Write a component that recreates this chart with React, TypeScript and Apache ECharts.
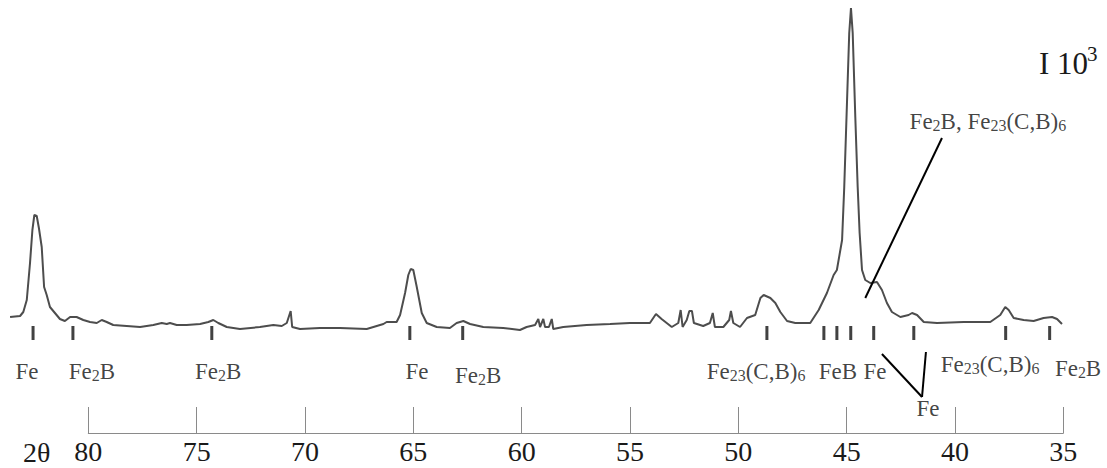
import React, { useEffect, useRef } from "react";
import * as echarts from "echarts";

// 2θ (degrees) of each traced point of the diffractogram
const twoTheta = [
  83.61, 83.15, 83.0, 82.84, 82.69, 82.58, 82.49, 82.38, 82.28, 82.15,
  82.04, 81.92, 81.77, 81.54, 81.31, 81.08, 80.84, 80.54, 80.23, 79.92,
  79.61, 79.38, 79.15, 78.85, 78.23, 77.61, 77.0, 76.61, 76.38, 76.23,
  75.92, 75.46, 74.84, 74.46, 74.23, 74.0, 73.61, 73.0, 72.08, 71.46,
  71.07, 70.84, 70.66, 70.59, 70.23, 69.31, 68.38, 67.15, 66.38, 66.23,
  65.77, 65.61, 65.38, 65.23, 65.12, 65.0, 64.84, 64.61, 64.38, 63.92,
  63.31, 63.0, 62.69, 62.38, 61.77, 60.85, 60.08, 59.77, 59.38, 59.23,
  59.15, 59.0, 58.92, 58.74, 58.61, 58.54, 58.08, 57.0, 55.92, 55.0,
  54.08, 53.8, 53.54, 53.07, 52.77, 52.66, 52.57, 52.38, 52.26, 52.14,
  52.05, 51.62, 51.31, 51.18, 51.08, 50.69, 50.42, 50.34, 50.23, 49.92,
  49.6, 49.22, 48.98, 48.83, 48.52, 48.29, 48.06, 47.75, 47.37, 46.68,
  46.29, 45.91, 45.6, 45.45, 45.21, 45.11, 44.98, 44.88, 44.8, 44.72,
  44.6, 44.49, 44.4, 44.29, 44.14, 43.91, 43.6, 43.37, 43.14, 42.91,
  42.52, 42.14, 41.98, 41.75, 41.44, 40.83, 39.6, 38.37, 37.91, 37.68,
  37.52, 37.29, 36.83, 36.37, 35.91, 35.52, 35.29, 35.06,
];

// intensity (arbitrary units) at each point
const intensity = [
  23, 24, 28, 40, 77, 110, 125, 124, 112, 93,
  53, 45, 33, 27, 21, 19, 23, 23, 20, 18,
  17, 20, 18, 15, 14, 13, 15, 17, 16, 17,
  15, 15, 16, 18, 20, 17, 13, 11, 13, 15,
  14, 17, 29, 13, 11, 12, 12, 11, 16, 18,
  18, 25, 47, 65, 71, 70, 53, 27, 17, 13,
  12, 17, 19, 16, 13, 12, 10, 13, 15, 21,
  13, 21, 13, 13, 21, 11, 13, 15, 16, 17,
  17, 26, 21, 13, 17, 30, 13, 20, 29, 29,
  17, 14, 17, 27, 13, 13, 20, 29, 17, 13,
  22, 25, 42, 45, 42, 37, 28, 19, 17, 17,
  30, 47, 65, 70, 100, 153, 240, 307, 332, 307,
  223, 153, 107, 70, 60, 57, 58, 50, 37, 28,
  23, 25, 27, 25, 18, 17, 18, 18, 25, 33,
  30, 22, 20, 19, 22, 23, 21, 16,
];

// phase reflection markers (2θ) and their level
const markerTheta = [82.55, 80.71, 74.3, 65.16, 62.72, 48.68, 46.05, 45.45, 44.81, 43.75, 41.9, 37.66, 35.63];
const markerLevel = 7;

// phase labels (digits become subscripts), their 2θ and level
const phaseLabels = ["Fe", "Fe2B", "Fe2B", "Fe", "Fe2B", "Fe23(C,B)6", "FeB", "Fe", "Fe", "Fe23(C,B)6", "Fe2B", "Fe2B, Fe23(C,B)6"];
const labelTheta = [82.83, 79.83, 74.01, 64.83, 62.01, 49.18, 45.4, 43.69, 41.25, 38.38, 34.32, 38.48];
const labelLevel = [-31, -31, -31, -31, -35, -31, -31, -31, -68, -24, -28, 219];

// leader lines (pairs of [2θ, level])
const leaderLines = [
  [[40.6, 202], [44.14, 42]],
  [[43.37, -14], [41.52, -57]],
  [[41.34, -12], [41.52, -57]],
];

// visible 2θ axis
const axisMin = 35;
const axisMax = 80;
const axisStep = 5;

const W = 1107;
const H = 468;
const AXIS_LEFT = 88.3;
const AXIS_RIGHT = 43.7;
const AXIS_BOTTOM = 35;
const LEVEL_MIN = -93;
const LEVEL_MAX = 340;

const SERIF = "Liberation Serif";

function toRich(s: string): string {
  return s
    .split(/(\d+)/)
    .filter((p) => p.length > 0)
    .map((p) => (/^\d+$/.test(p) ? `{s|${p}}` : `{m|${p}}`))
    .join("");
}

export default function App() {
  const ref = useRef<HTMLDivElement>(null);

  useEffect(() => {
    document.body.style.margin = "0";
    if (!ref.current) return;
    const chart = echarts.init(ref.current, null, { renderer: "svg" });

    // full-width data grid shares the pixel scale of the visible axis
    const pxPerDeg = (W - AXIS_LEFT - AXIS_RIGHT) / (axisMax - axisMin);
    const dataMaxDeg = axisMax + AXIS_LEFT / pxPerDeg;
    const dataMinDeg = axisMin - AXIS_RIGHT / pxPerDeg;

    const curve = twoTheta.map((t, i) => [t, intensity[i]]);
    const markers = markerTheta.map((t) => [t, markerLevel]);
    const labels = phaseLabels.map((s, i) => ({
      value: [labelTheta[i], labelLevel[i]],
      rich: toRich(s),
    }));

    const option: any = {
      animation: false,
      backgroundColor: "#ffffff",
      textStyle: { fontFamily: SERIF },
      grid: [
        { left: 0, right: 0, top: 0, bottom: AXIS_BOTTOM },
        { left: AXIS_LEFT, right: AXIS_RIGHT, top: H - AXIS_BOTTOM - 30, bottom: AXIS_BOTTOM },
      ],
      xAxis: [
        {
          gridIndex: 0,
          type: "value",
          inverse: true,
          min: dataMinDeg,
          max: dataMaxDeg,
          show: false,
        },
        {
          gridIndex: 1,
          type: "value",
          inverse: true,
          min: axisMin,
          max: axisMax,
          interval: axisStep,
          axisLine: { show: true, onZero: false, lineStyle: { color: "#8a8a8a", width: 1 } },
          axisTick: { show: true, inside: true, length: 26, lineStyle: { color: "#8a8a8a", width: 1 } },
          splitLine: { show: false },
          axisLabel: {
            show: true,
            fontSize: 28,
            fontFamily: SERIF,
            color: "#1a1a1a",
            margin: 4,
            showMinLabel: true,
            showMaxLabel: true,
          },
        },
      ],
      yAxis: [
        { gridIndex: 0, type: "value", min: LEVEL_MIN, max: LEVEL_MAX, show: false },
        { gridIndex: 1, type: "value", min: 0, max: 1, show: false },
      ],
      series: [
        {
          type: "line",
          xAxisIndex: 0,
          yAxisIndex: 0,
          data: curve,
          showSymbol: false,
          symbol: "none",
          lineStyle: { color: "#4d4d4d", width: 2 },
          markLine: {
            silent: true,
            symbol: ["none", "none"],
            label: { show: false },
            lineStyle: { color: "#000000", width: 2, type: "solid" },
            data: leaderLines.map((seg) => [{ coord: seg[0] }, { coord: seg[1] }]),
          },
        },
        {
          type: "scatter",
          xAxisIndex: 0,
          yAxisIndex: 0,
          data: markers,
          symbol: "rect",
          symbolSize: [3, 14],
          itemStyle: { color: "#111111" },
        },
        {
          type: "scatter",
          xAxisIndex: 0,
          yAxisIndex: 0,
          data: labels,
          symbol: "circle",
          symbolSize: 1,
          itemStyle: { color: "rgba(0,0,0,0)" },
          label: {
            show: true,
            position: "inside",
            formatter: (p: any) => p.data.rich,
            rich: {
              m: { fontSize: 23, fontFamily: SERIF, color: "#111111", lineHeight: 24 },
              s: { fontSize: 16, fontFamily: SERIF, color: "#111111", lineHeight: 11, verticalAlign: "bottom" },
            },
          },
        },
      ],
      graphic: [
        {
          type: "text",
          style: { text: "2θ", x: 23, y: 452, font: `28px "${SERIF}"`, fill: "#1a1a1a", textVerticalAlign: "middle" },
        },
        {
          type: "text",
          style: { text: "I 10", x: 1039, y: 63.5, font: `31px "${SERIF}"`, fill: "#1a1a1a", textVerticalAlign: "middle" },
        },
        {
          type: "text",
          style: { text: "3", x: 1087, y: 54, font: `21px "${SERIF}"`, fill: "#1a1a1a", textVerticalAlign: "middle" },
        },
      ],
    };

    chart.setOption(option);
    return () => chart.dispose();
  }, []);

  return <div ref={ref} style={{ width: W, height: H }} />;
}
